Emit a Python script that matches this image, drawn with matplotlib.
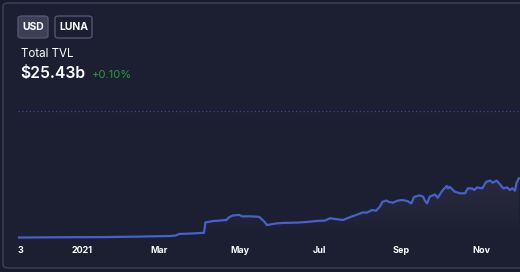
import matplotlib
matplotlib.use("Agg")
import matplotlib.pyplot as plt
import matplotlib.dates as mdates
import numpy as np
import pandas as pd
from matplotlib.patches import FancyBboxPatch, Polygon

plt.rcParams["font.family"] = ["Inter", "DejaVu Sans"]

# TVL in billions USD
dates = [
    "2020-11-13", "2020-12-15", "2021-01-20", "2021-02-14", "2021-03-09",
    "2021-03-13", "2021-03-16", "2021-03-25", "2021-04-04", "2021-04-05",
    "2021-04-11", "2021-04-18", "2021-04-21", "2021-04-23", "2021-04-26",
    "2021-05-01", "2021-05-03", "2021-05-09", "2021-05-16", "2021-05-20",
    "2021-05-22", "2021-05-29", "2021-06-03", "2021-06-10", "2021-06-16",
    "2021-06-23", "2021-06-30", "2021-07-05", "2021-07-09", "2021-07-14",
    "2021-07-19", "2021-07-24", "2021-07-29", "2021-08-03", "2021-08-06",
    "2021-08-10", "2021-08-13", "2021-08-16", "2021-08-18", "2021-08-21",
    "2021-08-23", "2021-08-26", "2021-08-29", "2021-09-02", "2021-09-06",
    "2021-09-09", "2021-09-11", "2021-09-15", "2021-09-18", "2021-09-19",
    "2021-09-21", "2021-09-23", "2021-09-27", "2021-09-29", "2021-10-03",
    "2021-10-06", "2021-10-07", "2021-10-08", "2021-10-12", "2021-10-16",
    "2021-10-20", "2021-10-22", "2021-10-25", "2021-10-27", "2021-10-29",
    "2021-11-02", "2021-11-05", "2021-11-08", "2021-11-10", "2021-11-13",
    "2021-11-15", "2021-11-18", "2021-11-21", "2021-11-23", "2021-11-25",
    "2021-11-27", "2021-11-28", "2021-11-30",
]
tvl = [
    0.2, 0.3, 0.4, 0.6, 0.85,
    1.0, 1.7, 1.9, 2.2, 6.6,
    7.2, 7.5, 7.65, 8.8, 9.6,
    9.8, 9.2, 9.2, 9.0, 6.9,
    5.5, 6.2, 6.4, 6.5, 6.6,
    6.9, 7.3, 7.4, 8.4, 8.0,
    7.65, 8.8, 9.8, 10.9, 10.75,
    11.9, 11.6, 13.3, 15.4, 15.9,
    15.3, 15.0, 15.8, 16.15, 15.7,
    14.7, 17.4, 18.1, 17.6, 16.2,
    14.7, 17.6, 18.5, 17.1, 20.4,
    22.1, 21.1, 21.8, 19.7, 19.0,
    19.0, 21.1, 21.1, 20.4, 21.5,
    21.1, 23.9, 24.4, 23.5, 24.4,
    23.2, 21.1, 21.5, 20.4, 21.1,
    20.1, 23.2, 25.4,
]
tick_dates = ["2020-11-15", "2021-01-01", "2021-03-01", "2021-05-01",
              "2021-07-01", "2021-09-01", "2021-11-01"]
tick_labels = ["3", "2021", "Mar", "May", "Jul", "Sep", "Nov"]
grid_value = 54

bg = "#1c1f32"
line_color = "#4462c9"

W, H = 520, 272
fig = plt.figure(figsize=(W / 100, H / 100), dpi=100)
fig.patch.set_facecolor("#181b2b")

# card behind everything
card = FancyBboxPatch((3 / W, 4 / H), 1.2, (H - 7) / H,
                      boxstyle="round,pad=0,rounding_size=0.012",
                      transform=fig.transFigure, facecolor=bg,
                      edgecolor="#3a3d52", linewidth=1.2, zorder=-5)
fig.patches.append(card)


def px(x, y):
    return x / W, 1 - y / H


# buttons
for (x0, x1, label, filled) in [(18, 48, "USD", True), (55, 92, "LUNA", False)]:
    b = FancyBboxPatch(px(x0, 38), (x1 - x0) / W, 22 / H,
                       boxstyle="round,pad=0,rounding_size=0.008",
                       transform=fig.transFigure,
                       facecolor="#3b3f57" if filled else bg,
                       edgecolor="#52566e", linewidth=1, zorder=1)
    fig.patches.append(b)
    fig.text(*px((x0 + x1) / 2, 27.5), label, color="white", fontsize=7.5,
             fontweight="bold", ha="center", va="center", zorder=2)

fig.text(*px(21, 54), "Total TVL", color="white", fontsize=8.3, ha="left", va="center")
fig.text(*px(20, 74), "$25.43b", color="white", fontsize=11.3, fontweight="semibold",
         ha="left", va="center")
fig.text(*px(92, 75), "+0.10%", color="#23a03a", fontsize=8, ha="left", va="center")

# chart
ax = fig.add_axes([18 / W, 1 - 240 / H, (W - 18) / W, 140 / H], zorder=3)
ax.set_facecolor("none")
x = mdates.date2num(pd.to_datetime(dates))
y = np.array(tvl)
k = 0.425
x0 = mdates.date2num(pd.Timestamp("2021-01-01"))

ax.axhline(grid_value, color="#3d4a8e", linestyle=(0, (1, 2)), linewidth=0.9)

# gradient fill under line
verts = [(x[0], 0)] + list(zip(x, y)) + [(x[-1], 0)]
poly = Polygon(verts, closed=True, facecolor="none", edgecolor="none")
ax.add_patch(poly)
grad = np.linspace(0, 1, 256).reshape(-1, 1)
rgba = np.zeros((256, 1, 4))
rgba[..., 0] = 0.60
rgba[..., 1] = 0.50
rgba[..., 2] = 0.62
rgba[..., 3] = 0.13 * grad
img = ax.imshow(rgba, extent=[x[0], x[-1], 0, 28], origin="lower",
                aspect="auto", zorder=1)
img.set_clip_path(poly)

ax.plot(x, y, color=line_color, linewidth=1.6, zorder=2)

ax.set_xticks(mdates.date2num(pd.to_datetime(tick_dates)))
ax.set_xticklabels(tick_labels)
ax.tick_params(axis="x", length=0, pad=4, labelsize=6.5, labelcolor="white")
for t in ax.get_xticklabels():
    t.set_fontweight("bold")
ax.set_yticks([])
for s in ax.spines.values():
    s.set_visible(False)
ax.set_xlim(x0 - 48.8, x0 + 333.8)
ax.set_ylim(-2 * k, 138 * k)

fig.savefig("out.png", dpi=100, facecolor=fig.get_facecolor())
